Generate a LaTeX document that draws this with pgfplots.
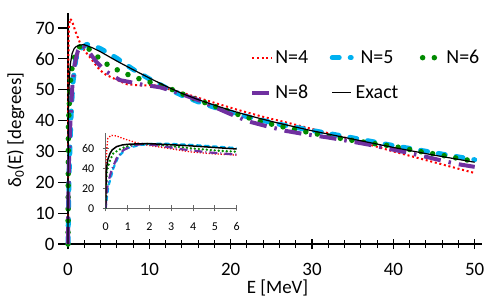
\documentclass[border=0pt]{standalone}
\usepackage{fontspec}
\setmainfont{Carlito}
\usepackage{pgfplots}
\pgfplotsset{compat=1.18}
\usepackage{pgfplotstable}

\definecolor{cRed}{HTML}{FF0000}
\definecolor{cCyan}{HTML}{00B0F0}
\definecolor{cGreen}{HTML}{008A00}
\definecolor{cPurple}{HTML}{7030A0}

% N=4
\pgfplotstableread{
E d
0 0
0.02 40
0.05 60
0.1 70
0.25 73
0.5 72.3
0.86 69.3
1.5 65
2 62.8
2.7 60.5
3.9 56.4
4.7 54.8
5.6 53.7
7.2 51.8
8.8 51.4
10.5 51.5
12.1 50.4
14.2 48.9
16.6 46.9
20.7 43.6
24 41.2
27.3 39.1
30 37.3
35 33.8
40 30.0
45 26.5
50 23.0
}\dataA
% N=5
\pgfplotstableread{
E d
0 0
0.05 10
0.12 21.7
0.35 40
0.58 51.7
0.96 60
1.57 63.3
2.3 64.7
3 64.4
4 63.3
5 61.8
6 60.2
8 56.6
10 53.5
12 50.7
14 48.2
16 46.1
18 44.3
20 42.7
22 41.3
24 40.0
26 38.8
28 37.8
30 36.8
35 34.4
40 31.9
45 29.6
50 27.3
}\dataB
% N=6
\pgfplotstableread{
E d
0 0
0.05 38
0.2 48
0.35 55
0.73 60
1.1 62.7
1.5 64.2
2 64.5
3.1 62.0
4 59.8
5.2 57.5
7 55.3
8.6 53.7
9.9 52.6
12.5 50.4
15 47.6
18.3 44.4
21.1 41.8
23.8 39.6
26.7 37.8
29.7 36.1
34.2 33.9
38.5 32.2
40 31.7
43 30.1
45.9 28.8
48.9 27.3
50 26.9
}\dataC
% N=8
\pgfplotstableread{
E d
0 0
0.05 18
0.12 26.7
0.27 38
0.5 50
0.8 58
1.2 62.5
1.7 64.5
2.5 62.5
3.5 59
4.7 55.9
6.4 53.1
7.4 52.6
8.8 51.8
11.3 50.8
13 49.5
15 47.6
16.6 46.1
18 44.4
19.9 42.2
22.1 39.8
24.4 38.2
26.9 36.6
29.1 35.6
31.8 34.6
33.6 33.8
37 32.2
41.2 29.9
43.5 28.6
45.7 27.2
47.9 25.9
50 25.0
}\dataD
% Exact
\pgfplotstableread{
E d
0 0
0.01 22
0.03 35
0.05 42
0.1 49
0.2 55
0.3 58.5
0.5 61.7
0.75 63.3
1 64
1.5 64.5
2 64.6
3 63.6
4 62.3
5 60.8
6 59.3
8 56.5
10 53.8
12 51.2
14 48.8
16 46.8
18 45.0
20 43.3
22 41.8
24 40.4
26 39.1
28 37.9
30 36.7
35 34.0
40 31.3
45 28.8
50 26.5
}\dataE

\begin{document}
\begin{tikzpicture}
\useasboundingbox (-68bp,-57bp) rectangle (430bp,244bp);
\begin{axis}[
  at={(0,0)}, anchor=south west,
  scale only axis, width=414bp, height=231.4bp,
  xmin=0, xmax=50.9, ymin=0, ymax=75,
  clip=false,
  axis lines=left, axis line style={-, line width=1.1bp, black},
  xtick={0,10,...,50}, minor x tick num=4,
  ytick={0,10,...,70},
  tick align=center, major tick length=10bp, minor tick length=8bp,
  tick style={line width=1.1bp, black},
  y tick style={xshift=-5bp},
  /pgf/number format/assume math mode=true,
  ticklabel style={font=\fontsize{19}{22}\selectfont},
  xticklabel style={yshift=-11bp},
  yticklabel style={xshift=-5bp},
  xlabel={E [MeV]},
  ylabel={δ\textsubscript{0}(E) [degrees]},
  every axis x label/.style={at={(axis description cs:0.506,-0.212)}, anchor=base, font=\fontsize{19}{22}\selectfont},
  every axis y label/.style={at={(axis description cs:-0.126,0.493)}, anchor=center, rotate=90, font=\fontsize{19}{22}\selectfont},
  legend columns=3,
  legend style={draw=none, fill=none, at={(axis description cs:0.44,0.847)}, anchor=north west,
    font=\fontsize{20}{24}\selectfont, inner sep=0pt,
    /tikz/every even column/.append style={column sep=19.5bp}, /tikz/row sep=16bp,
    nodes={inner sep=2bp}},
  legend image code/.code={\draw[#1] (0bp,0bp) -- (19bp,0bp);},
]
\addplot[cRed, line width=2bp, dash pattern=on 2bp off 2.7bp] table {\dataA};
\addlegendentry{N=4}
\addplot[cCyan, line width=5bp, line cap=round, line join=round, dash pattern=on 7bp off 11bp] table {\dataB};
\addlegendentry{N=5}
\addplot[cGreen, line width=5.5bp, line cap=round, line join=round, dash pattern=on 0bp off 11.7bp] table {\dataC};
\addlegendentry{N=6}
\addplot[cPurple, line width=4bp, line join=round, dash pattern=on 17bp off 8bp on 2.5bp off 8bp] table {\dataD};
\addlegendentry{N=8}
\addplot[black, line width=1.2bp] table {\dataE};
\addlegendentry{Exact}
\end{axis}
\begin{axis}[
  at={(37.7bp,35.7bp)}, anchor=south west,
  scale only axis, width=131bp, height=75bp,
  xmin=0, xmax=6, ymin=0, ymax=75,
  axis lines=left, axis line style={-, line width=0.8bp, black!60},
  xtick={0,...,6}, ytick={0,20,40,60},
  tick align=center, major tick length=6bp,
  tick style={line width=0.8bp, black!60},
  /pgf/number format/assume math mode=true,
  ticklabel style={font=\fontsize{12}{14}\selectfont},
  xticklabel style={yshift=-8bp},
  yticklabel style={xshift=-5bp},
]
\addplot[cRed, line width=1.3bp, dash pattern=on 1.3bp off 1.7bp] table {\dataA};
\addplot[cCyan, line width=2.2bp, line cap=round, dash pattern=on 4bp off 4bp] table {\dataB};
\addplot[cGreen, line width=2.6bp, line cap=round, dash pattern=on 0bp off 4bp] table {\dataC};
\addplot[cPurple, line width=2.2bp, dash pattern=on 8bp off 3bp on 1bp off 3bp] table {\dataD};
\addplot[black, line width=1.5bp] table {\dataE};
\end{axis}
\end{tikzpicture}
\end{document}
